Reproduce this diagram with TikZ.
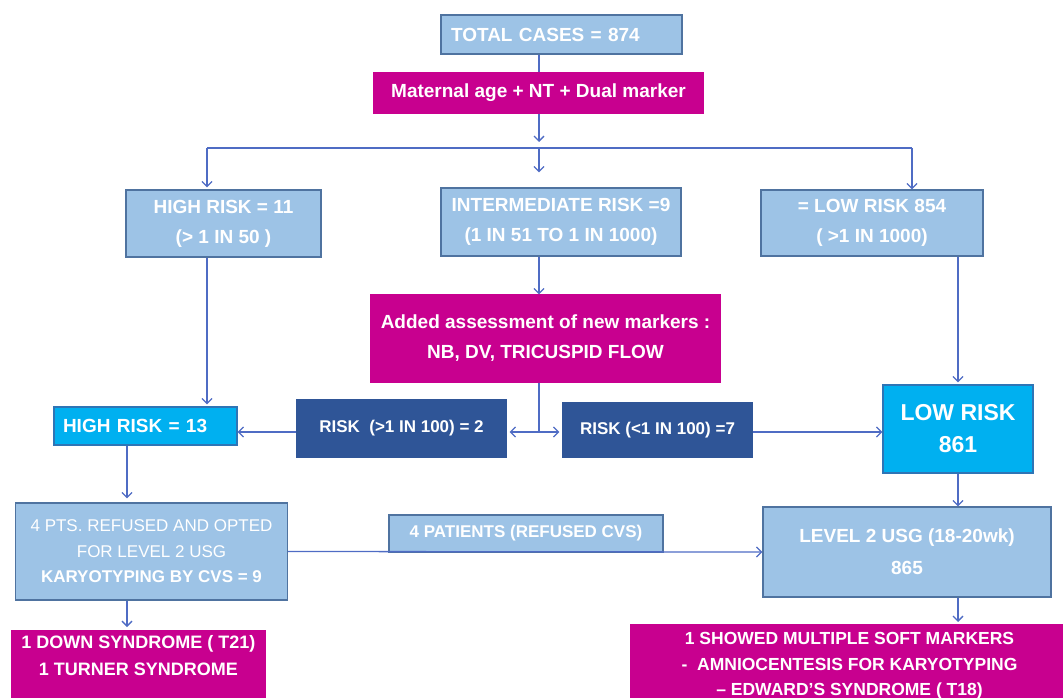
\documentclass[tikz,border=0pt]{standalone}
\usepackage{fontspec}
\setmainfont{Liberation Sans}
\usetikzlibrary{arrows.meta,positioning,calc}
\definecolor{boxBlue}{HTML}{9DC3E6}
\definecolor{edgeBlue}{HTML}{4F73A0}
\definecolor{boxCyan}{HTML}{00B0F0}
\definecolor{edgeCyan}{HTML}{2E75B6}
\definecolor{boxNavy}{HTML}{2F5597}
\definecolor{boxMagenta}{HTML}{C8008F}
\definecolor{linkBlue}{HTML}{4F6CC4}
\newcommand{\PicW}{1063}
\newcommand{\PicH}{698}
\newcommand{\MidX}{539}
\newcommand{\SplitY}{148}
\newcommand{\ForkY}{432}
\newcommand{\HighX}{207}
\newcommand{\LowX}{912}
\newcommand{\LeftX}{127}

\begin{document}
\begin{tikzpicture}[x=1pt,y=-1pt,
  lbox/.style={draw=edgeBlue, line width=1.2pt, fill=boxBlue, text=white, align=center, inner sep=2pt,
    font=\fontsize{19}{30}\selectfont\bfseries},
  cbox/.style={lbox, draw=edgeCyan, fill=boxCyan},
  nbox/.style={lbox, draw=boxNavy, fill=boxNavy, font=\fontsize{17}{25}\selectfont\bfseries},
  mbox/.style={lbox, draw=boxMagenta, fill=boxMagenta},
  link/.style={draw=linkBlue, line width=1.3pt},
  annot/.style={link, -{Straight Barb[length=5pt,width=10pt]}}
]
\useasboundingbox (0,0) rectangle (\PicW,\PicH);
\clip (0,0) rectangle (\PicW,\PicH);

% ----- Fixed points -----
\coordinate (split) at (\MidX,\SplitY);
\coordinate (fork) at (\MidX,\ForkY);
\coordinate (hiTop) at (\HighX,\SplitY);
\coordinate (loTop) at (\LowX,\SplitY);
\coordinate (leftCol) at (\LeftX,0);

% Screening
\node[lbox, minimum width=241, minimum height=39, text width=221, align=left] (total) at (561.5,34.5) {TOTAL CASES = 874};
\node[mbox, minimum width=329, minimum height=40] (maternal) at (538.5,93) {Maternal age + NT + Dual marker};

% Risk groups
\node[lbox, minimum width=195, minimum height=67] (high11) at (223.5,223.5) {HIGH RISK = 11\\(> 1 IN 50 )};
\node[lbox, minimum width=240, minimum height=68] (inter) at (561,222) {INTERMEDIATE RISK =9\\(1 IN 51 TO 1 IN 1000)};
\node[lbox, minimum width=222, minimum height=66] (low854) at (872,223) {= LOW RISK 854\\( >1 IN 1000)};

% New markers
\node[mbox, minimum width=349, minimum height=87] (added) at (545.5,338.5) {Added assessment of new markers :\\NB, DV, TRICUSPID FLOW};
\node[nbox, minimum width=209, minimum height=57] (riskL) at (401.5,428.5) {RISK\ \ (>1 IN 100) = 2};
\node[nbox, minimum width=189, minimum height=55] (riskR) at (657.5,430) {RISK (<1 IN 100) =7};

% Revised groups
\node[cbox, minimum width=183, minimum height=38, text width=165, align=left, inner sep=0pt] (high13) at (145.5,426) {HIGH RISK = 13};
\node[cbox, minimum width=150, minimum height=88, font=\fontsize{23}{32}\selectfont\bfseries] (low861) at (958,429) {LOW RISK\\861};

% Follow-up
\node[lbox, minimum width=272, minimum height=97, font=\fontsize{17}{25.5}\selectfont\bfseries] (refused) at (151.5,551.5)
  {{\mdseries 4 PTS. REFUSED AND OPTED}\\{\mdseries FOR LEVEL 2 USG}\\KARYOTYPING BY CVS = 9};
\node[lbox, minimum width=274, minimum height=37, font=\fontsize{17}{25}\selectfont\bfseries] (patients) at (526,533.5) {4 PATIENTS (REFUSED CVS)};
\node[lbox, minimum width=288, minimum height=90, font=\fontsize{19}{32}\selectfont\bfseries] (level2) at (907,552) {LEVEL 2 USG (18-20wk)\\865};

% Outcomes
\node[mbox, anchor=north, minimum width=253, inner ysep=5pt, text depth=42pt, font=\fontsize{18}{27}\selectfont\bfseries] (down) at (138.5,630)
  {1 DOWN SYNDROME ( T21)\\1 TURNER SYNDROME};
\node[mbox, anchor=north, minimum width=437, inner ysep=8pt, text depth=24pt, font=\fontsize{17.5}{25.5}\selectfont\bfseries] (edward) at (849.5,624)
  {1 SHOWED MULTIPLE SOFT MARKERS\\-\ \ AMNIOCENTESIS FOR KARYOTYPING\\-- EDWARD'S SYNDROME ( T18)};

% ===== Connectors =====
\draw[link] (total.south -| split) -- (maternal.north -| split);
\draw[annot, shorten >=6pt] (maternal.south -| split) -- (split);
\draw[link] (hiTop) -- (loTop);
\draw[annot, shorten >=15pt] (split) -- (inter.north -| split);
\draw[annot, shorten >=2pt] (hiTop) -- (hiTop |- high11.north);
\draw[annot] (loTop) -- (loTop |- low854.north);

\draw[annot] (inter.south -| split) -- (added.north -| split);
\draw[annot, shorten >=2pt] (hiTop |- high11.south) -- (hiTop |- high13.north);
\draw[annot, shorten >=2pt] (low854.south -| low861) -- (low861.north);

\draw[link] (added.south -| fork) -- (fork);
\draw[annot, shorten >=3pt] (fork) -- (riskL.east |- fork);
\draw[annot, shorten >=3pt] (fork) -- (riskR.west |- fork);
\draw[annot] (riskL.west |- fork) -- (high13.east |- fork);
\draw[annot] (riskR.east |- fork) -- (low861.west |- fork);

\draw[annot, shorten >=4pt] (high13.south -| leftCol) -- (refused.north -| leftCol);
\draw[annot] (low861.south) -- (level2.north -| low861);
\draw[annot] (refused.east) -- (level2.west);
\draw[annot, shorten >=3pt] (refused.south -| leftCol) -- (down.north -| leftCol);
\draw[annot, shorten >=2pt] (level2.south -| low861) -- (edward.north -| low861);

\end{tikzpicture}
\end{document}
